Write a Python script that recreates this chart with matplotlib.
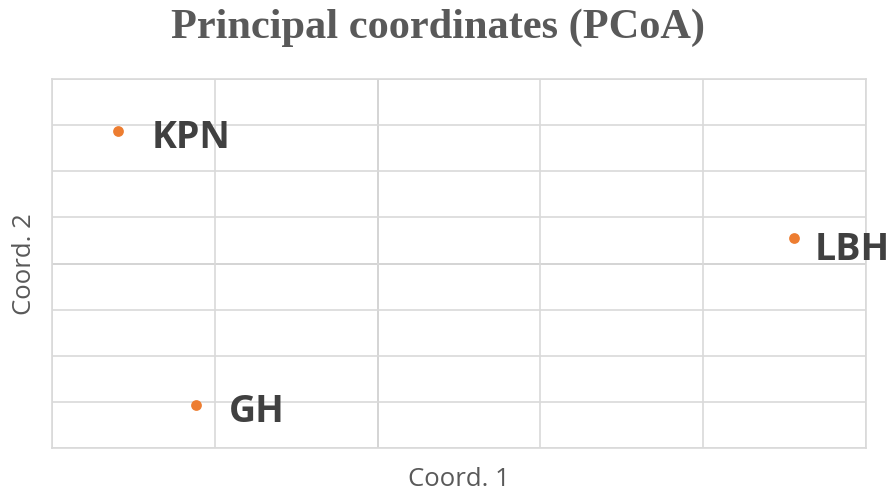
import matplotlib
matplotlib.use("Agg")
import matplotlib.pyplot as plt
import numpy as np

# Data
sites = ["KPN", "GH", "LBH"]
coord1 = [-0.1595, -0.1117, 0.2558]
coord2 = [0.1435, -0.1533, 0.0272]

x_ticks = [-0.2, -0.1, 0.0, 0.1, 0.2, 0.3]
y_ticks = [-0.2, -0.15, -0.1, -0.05, 0.0, 0.05, 0.1, 0.15, 0.2]

# label offsets in points (style)
label_offsets = [(24, -5), (23.5, -5), (14.5, -8)]

W, H = 892, 493
fig = plt.figure(figsize=(W / 100, H / 100), dpi=100)
ax = fig.add_axes([52 / W, 1 - 448 / H, (866 - 52) / W, (448 - 79) / H])

ax.set_xlim(x_ticks[0], x_ticks[-1])
ax.set_ylim(y_ticks[0], y_ticks[-1])
ax.set_xticks(x_ticks)
ax.set_yticks(y_ticks)
ax.tick_params(length=0, labelbottom=False, labelleft=False)
ax.grid(True, color="#d9d9d9", linewidth=1.2, zorder=0)
for s in ax.spines.values():
    s.set_color("#d9d9d9")
    s.set_linewidth(1.2)
ax.axhline(0, color="#bfbfbf", linewidth=1.3, zorder=1)
ax.axvline(0, color="#bfbfbf", linewidth=1.3, zorder=1)

ax.scatter(coord1, coord2, s=60, color="#ED7D31", zorder=3, linewidths=0)
for name, x, y, off in zip(sites, coord1, coord2, label_offsets):
    ax.annotate(name, (x, y), xytext=off, textcoords="offset points",
                ha="left", va="center", fontsize=27, fontweight="bold",
                family="Open Sans", color="#404040", annotation_clip=False)

fig.text(438 / W, 1 - 38 / H, "Principal coordinates (PCoA)", ha="center", va="baseline",
         fontsize=30.5, fontweight="bold", family="Liberation Serif", color="#595959")
fig.text(459 / W, 1 - 486 / H, "Coord. 1", ha="center", va="baseline",
         fontsize=18.5, family="Open Sans", color="#595959")
fig.text(25 / W, 1 - 264 / H, "Coord. 2", ha="center", va="center", rotation=90,
         fontsize=18.5, family="Open Sans", color="#595959")

fig.savefig("out.png", dpi=100)
